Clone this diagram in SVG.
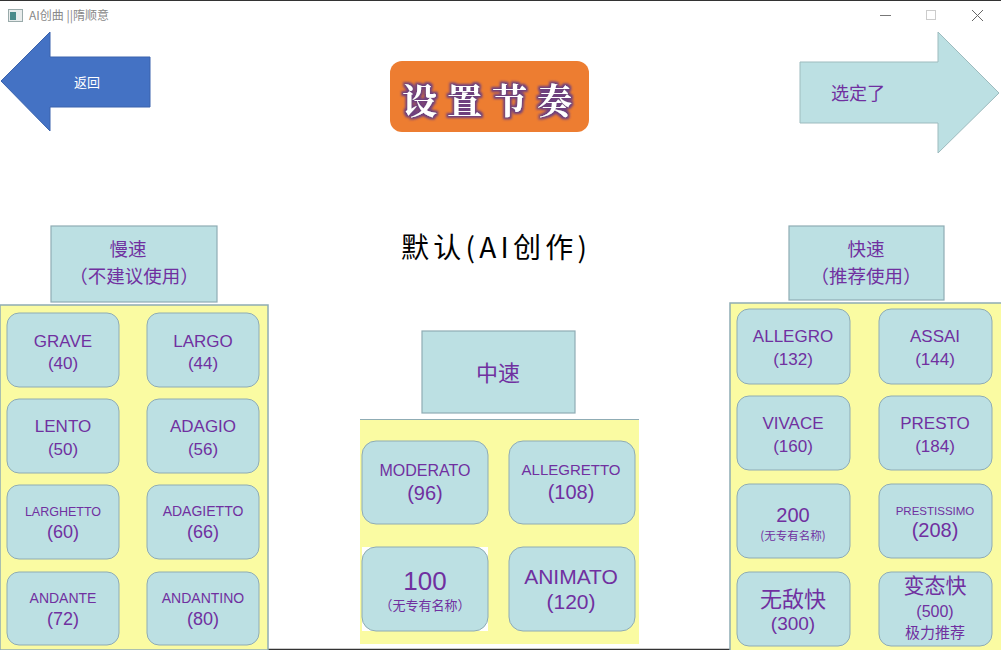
<svg xmlns="http://www.w3.org/2000/svg" width="1001" height="650" viewBox="0 0 1001 650">
<style>
.t{font-family:"Liberation Sans","Noto Sans CJK SC",sans-serif;fill:#7030A0;text-anchor:middle}
.cj{font-family:"Noto Sans CJK SC",sans-serif;fill:#7030A0;text-anchor:middle}
.btn{fill:#BCE0E3;stroke:#8FACB4;stroke-width:1}
.hdr{fill:#BCE0E3;stroke:#8FACB4;stroke-width:1.2}
.panel{fill:#FAFBA2;stroke:#8FACB4;stroke-width:1.5}
</style>
<defs>
<filter id="glow" x="-20%" y="-30%" width="140%" height="160%">
<feMorphology in="SourceAlpha" operator="dilate" radius="1.6" result="d"/>
<feGaussianBlur in="d" stdDeviation="1.2" result="b"/>
<feFlood flood-color="#6E3F7E"/>
<feComposite in2="b" operator="in" result="g"/>
<feMerge><feMergeNode in="g"/><feMergeNode in="SourceGraphic"/></feMerge>
</filter>
</defs>
<rect width="1001" height="650" fill="#FFFFFF"/>
<line x1="0" y1="0.5" x2="1001" y2="0.5" stroke="#333" stroke-width="1"/>
<line x1="0" y1="649.5" x2="1001" y2="649.5" stroke="#333" stroke-width="1.5"/>
<g id="titlebar">
<rect x="8.5" y="9.5" width="14" height="12" fill="#E8ECEC" stroke="#9AA" stroke-width="1"/>
<rect x="10" y="12" width="6" height="8" fill="#4A8A8A"/>
<text x="29" y="20" font-family="'Noto Sans CJK SC','Liberation Sans',sans-serif" font-size="12" fill="#888">AI创曲 ||隋顺意</text>
<line x1="880" y1="15.5" x2="891" y2="15.5" stroke="#777" stroke-width="1"/>
<rect x="926.5" y="10.5" width="9" height="9" fill="none" stroke="#ccc" stroke-width="1"/>
<path d="M972 10 L983 21 M983 10 L972 21" stroke="#666" stroke-width="1"/>
</g>
<g id="back">
<path d="M1 81 L50 32 L50 57 L150 57 L150 107 L50 107 L50 131 Z" fill="#4472C4" stroke="#3A63AD" stroke-width="1"/>
<text x="87" y="87" class="cj" style="fill:#FFFFFF" font-size="13">返回</text>
</g>
<g id="title">
<rect x="390" y="61" width="199" height="71" rx="12" fill="#ED7D31"/>
<text x="492" y="114" font-family="'Noto Serif CJK SC','Noto Sans CJK SC',serif" font-weight="bold" font-size="35" fill="#FFFFFF" text-anchor="middle" letter-spacing="10" filter="url(#glow)">设置节奏</text>
</g>
<g id="confirm">
<path d="M800 62 L938 62 L938 32 L999 93 L938 153 L938 123 L800 123 Z" fill="#BCE0E3" stroke="#9DBBBE" stroke-width="1"/>
<text x="858" y="100" class="cj" font-size="18">选定了</text>
</g>
<g id="default">
<text x="401" y="258" font-family="'Noto Sans CJK SC',sans-serif" font-size="28" fill="#000" textLength="186" lengthAdjust="spacing">默认(AI创作)</text>
</g>
<g id="slow">
<rect x="51" y="226" width="166" height="76" class="hdr"/>
<text class="cj" font-size="18.5"><tspan x="128" y="256">慢速</tspan><tspan x="134" y="283">（不建议使用）</tspan></text>
<rect x="0" y="305" width="268" height="345" class="panel"/>
<g id="grave"><rect x="7" y="313" width="112" height="74" rx="12" class="btn"/><text x="63" y="347" class="t" font-size="17">GRAVE</text><text x="63" y="369" class="t" font-size="17">(40)</text></g>
<g id="largo"><rect x="147" y="313" width="112" height="74" rx="12" class="btn"/><text x="203" y="347" class="t" font-size="17">LARGO</text><text x="203" y="369" class="t" font-size="17">(44)</text></g>
<g id="lento"><rect x="7" y="399" width="112" height="74" rx="12" class="btn"/><text x="63" y="432" class="t" font-size="17">LENTO</text><text x="63" y="455" class="t" font-size="17">(50)</text></g>
<g id="adagio"><rect x="147" y="399" width="112" height="74" rx="12" class="btn"/><text x="203" y="432" class="t" font-size="17">ADAGIO</text><text x="203" y="455" class="t" font-size="17">(56)</text></g>
<g id="larghetto"><rect x="7" y="485" width="112" height="74" rx="12" class="btn"/><text x="63" y="516" class="t" font-size="12.5">LARGHETTO</text><text x="63" y="538" class="t" font-size="18">(60)</text></g>
<g id="adagietto"><rect x="147" y="485" width="112" height="74" rx="12" class="btn"/><text x="203" y="516" class="t" font-size="14">ADAGIETTO</text><text x="203" y="538" class="t" font-size="18">(66)</text></g>
<g id="andante"><rect x="7" y="572" width="112" height="73" rx="12" class="btn"/><text x="63" y="603" class="t" font-size="14">ANDANTE</text><text x="63" y="625" class="t" font-size="18">(72)</text></g>
<g id="andantino"><rect x="147" y="572" width="112" height="73" rx="12" class="btn"/><text x="203" y="603" class="t" font-size="14">ANDANTINO</text><text x="203" y="625" class="t" font-size="18">(80)</text></g>
</g>
<g id="medium">
<rect x="422" y="331" width="153" height="82" class="hdr"/>
<text x="498" y="381" class="cj" font-size="22">中速</text>
<rect x="360" y="419" width="279" height="225" fill="#FAFBA2"/>
<line x1="360" y1="419.5" x2="639" y2="419.5" stroke="#8FACB4" stroke-width="1"/>
<g id="moderato"><rect x="362" y="441" width="126" height="83" rx="14" class="btn"/><text x="425" y="476" class="t" font-size="16">MODERATO</text><text x="425" y="500" class="t" font-size="20">(96)</text></g>
<g id="allegretto"><rect x="509" y="441" width="126" height="83" rx="14" class="btn"/><text x="571" y="475" class="t" font-size="15">ALLEGRETTO</text><text x="571" y="499" class="t" font-size="20">(108)</text></g>
<g id="m100"><rect x="362" y="547" width="126" height="84" fill="#FFFFFF"/><rect x="362" y="547" width="126" height="84" rx="14" class="btn"/><text x="425" y="590" class="t" font-size="26">100</text><text x="425" y="610" class="cj" font-size="13">（无专有名称）</text></g>
<g id="animato"><rect x="509" y="547" width="126" height="84" rx="14" class="btn"/><text x="571" y="584" class="t" font-size="21">ANIMATO</text><text x="571" y="609" class="t" font-size="21">(120)</text></g>
</g>
<g id="fast">
<rect x="789" y="226" width="155" height="74" class="hdr"/>
<text class="cj" font-size="18.5"><tspan x="866" y="256">快速</tspan><tspan x="866" y="283">（推荐使用）</tspan></text>
<rect x="730" y="303" width="275" height="350" class="panel"/>
<g id="allegro"><rect x="737" y="309" width="113" height="75" rx="12" class="btn"/><text x="793" y="342" class="t" font-size="17">ALLEGRO</text><text x="793" y="365" class="t" font-size="17">(132)</text></g>
<g id="assai"><rect x="879" y="309" width="113" height="75" rx="12" class="btn"/><text x="935" y="342" class="t" font-size="17">ASSAI</text><text x="935" y="365" class="t" font-size="17">(144)</text></g>
<g id="vivace"><rect x="737" y="396" width="113" height="74" rx="12" class="btn"/><text x="793" y="429" class="t" font-size="17">VIVACE</text><text x="793" y="452" class="t" font-size="17">(160)</text></g>
<g id="presto"><rect x="879" y="396" width="113" height="74" rx="12" class="btn"/><text x="935" y="429" class="t" font-size="17">PRESTO</text><text x="935" y="452" class="t" font-size="17">(184)</text></g>
<g id="f200"><rect x="737" y="484" width="113" height="74" rx="12" class="btn"/><text x="793" y="522" class="t" font-size="20">200</text><text x="793" y="540" class="cj" font-size="11.5">(无专有名称)</text></g>
<g id="prestissimo"><rect x="879" y="484" width="113" height="74" rx="12" class="btn"/><text x="935" y="515" class="t" font-size="11.5">PRESTISSIMO</text><text x="935" y="537" class="t" font-size="20">(208)</text></g>
<g id="f300"><rect x="737" y="572" width="113" height="74" rx="12" class="btn"/><text x="793" y="607" class="cj" font-size="22">无敌快</text><text x="793" y="630" class="t" font-size="19">(300)</text></g>
<g id="f500"><rect x="879" y="572" width="113" height="74" rx="12" class="btn"/><text x="935" y="593" class="cj" font-size="21">变态快</text><text x="935" y="617" class="t" font-size="16">(500)</text><text x="935" y="638" class="cj" font-size="15">极力推荐</text></g>
</g>
<g id="connectors"></g>
</svg>
